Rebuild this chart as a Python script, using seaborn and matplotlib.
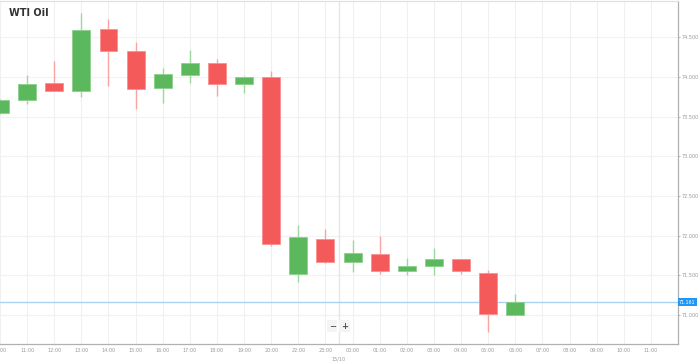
import matplotlib
matplotlib.use('Agg')
import matplotlib.pyplot as plt
import seaborn as sns
import numpy as np

# hourly candles (15/10 day break after 23:00)
hours = ['10:00', '11:00', '12:00', '13:00', '14:00', '15:00', '16:00', '17:00',
         '18:00', '19:00', '20:00', '22:00', '23:00', '00:00', '01:00', '02:00',
         '03:00', '04:00', '05:00', '06:00', '07:00', '08:00', '09:00', '10:00', '11:00']
opens = [73.546, 73.71, 73.924, 73.823, 74.61, 74.33, 73.86, 74.03, 74.18, 73.91,
         74.00, 71.52, 71.96, 71.67, 71.77, 71.55, 71.62, 71.70, 71.53, 71.00]
highs = [73.72, 74.025, 74.20, 74.81, 74.73, 74.44, 74.11, 74.34, 74.23, 74.01,
         74.08, 72.14, 72.08, 71.94, 71.99, 71.72, 71.85, 71.70, 71.57, 71.27]
lows = [73.53, 73.66, 73.82, 73.75, 73.89, 73.60, 73.67, 73.92, 73.76, 73.80,
        71.87, 71.42, 71.65, 71.54, 71.52, 71.51, 71.51, 71.52, 70.78, 71.00]
closes = [73.71, 73.912, 73.823, 74.59, 74.33, 73.85, 74.04, 74.18, 73.91, 74.00,
          71.89, 71.98, 71.67, 71.78, 71.56, 71.62, 71.70, 71.55, 71.01, 71.161]
last_price = 71.161
y_ticks = [71.0, 71.5, 72.0, 72.5, 73.0, 73.5, 74.0, 74.5]

sns.set_theme(style='white')
plt.rcParams['font.family'] = ['DejaVu Sans']

fig = plt.figure(figsize=(6.99, 3.62), dpi=100)
ax = fig.add_axes([0.0, 0.0497, 678 / 699, 0.9475])

green, red = '#5cb85c', '#f55a5a'
green_w, red_w = '#9fd89f', '#f9a3a3'
x = np.arange(len(opens))
up = np.array(closes) >= np.array(opens)

# grid
for i in range(len(hours)):
    ax.axvline(i, color='#f0f0f0', lw=0.8, zorder=0)
for yv in y_ticks:
    ax.axhline(yv, color='#f2f2f2', lw=0.8, zorder=0)
ax.axvline(12.5, color='#e6e6e6', lw=1.0, zorder=0)

# wicks and bodies
ax.vlines(x, lows, highs, colors=np.where(up, green_w, red_w), lw=1.0, zorder=2)
bottoms = np.minimum(opens, closes)
heights = np.maximum(np.abs(np.array(closes) - np.array(opens)), 0.015)
ax.bar(x, heights, bottom=bottoms, width=0.66,
       color=np.where(up, green, red), edgecolor=np.where(up, '#8fd08f', '#f89090'),
       linewidth=0.6, zorder=3)

# current price line
ax.axhline(last_price, color='#a9d3f2', lw=1.0, zorder=1)
ax.text(1.0015, last_price, f'{last_price:.3f}', transform=ax.get_yaxis_transform(),
        fontsize=3.4, color='white', va='center', ha='left', clip_on=False,
        bbox=dict(boxstyle='square,pad=0.3', fc='#2196f3', ec='none'))

ax.set_xlim(0, 25)
ax.set_ylim(70.634, 74.958)
ax.set_xticks(range(len(hours)))
ax.set_xticklabels(hours)
ax.set_yticks(y_ticks)
ax.set_yticklabels([f'{v:.3f}' for v in y_ticks])
ax.yaxis.tick_right()
ax.tick_params(axis='both', labelsize=3.5, colors='#999999', length=1.5, width=0.5, pad=1.2)
ax.spines['left'].set_visible(False)
ax.spines['right'].set_color('#b0b0b0')
ax.spines['bottom'].set_color('#b0b0b0')
ax.spines['top'].set_color('#e0e0e0')
for s in ['right', 'bottom', 'top']:
    ax.spines[s].set_linewidth(0.9)

ax.text(12.5, -0.036, '15/10', transform=ax.get_xaxis_transform(), fontsize=3.5,
        color='#999999', ha='center', va='top')
ax.text(0.014, 0.965, 'WTI Oil', transform=ax.transAxes, fontsize=7, fontweight='bold',
        color='#333333', ha='left', va='center')

# zoom buttons
for xb, lab in [(12.25, '−'), (12.7, '+')]:
    ax.text(xb, 70.86, lab, fontsize=6, fontweight='bold', color='#555555', ha='center',
            va='center', bbox=dict(boxstyle='square,pad=0.2', fc='#f4f4f4', ec='none'))

fig.savefig('out.png', dpi=100)
